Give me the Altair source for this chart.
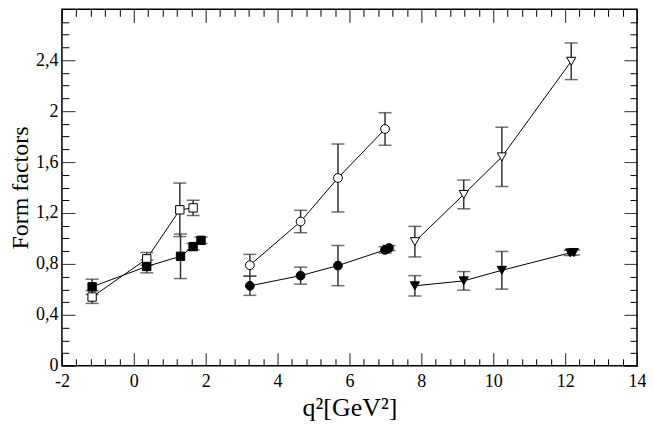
import altair as alt
import pandas as pd

# ---- data ----
sq_open_x = [-1.16, 0.36, 1.28, 1.65]
sq_open_y = [0.54, 0.84, 1.225, 1.24]
sq_open_e = [0.05, 0.05, 0.21, 0.06]

sq_fill_x = [-1.16, 0.36, 1.30, 1.65, 1.87]
sq_fill_y = [0.62, 0.78, 0.86, 0.936, 0.985]
sq_fill_e = [0.06, 0.05, 0.175, 0.025, 0.025]

ci_open_x = [3.23, 4.64, 5.68, 6.99]
ci_open_y = [0.79, 1.133, 1.475, 1.86]
ci_open_e = [0.085, 0.088, 0.267, 0.128]

ci_fill_x = [3.23, 4.64, 5.68, 6.99, 7.10]
ci_fill_y = [0.628, 0.708, 0.787, 0.91, 0.925]
ci_fill_e = [0.075, 0.067, 0.158, 0.025, 0.02]

tr_open_x = [7.82, 9.18, 10.24, 12.17]
tr_open_y = [0.975, 1.346, 1.641, 2.392]
tr_open_e = [0.12, 0.113, 0.233, 0.144]

tr_fill_x = [7.82, 9.18, 10.24, 12.14, 12.24]
tr_fill_y = [0.628, 0.667, 0.75, 0.887, 0.89]
tr_fill_e = [0.08, 0.073, 0.148, 0.02, 0.02]

series = [
    ("sq_open", "sq", "open", sq_open_x, sq_open_y, sq_open_e),
    ("sq_fill", "sq", "filled", sq_fill_x, sq_fill_y, sq_fill_e),
    ("ci_open", "ci", "open", ci_open_x, ci_open_y, ci_open_e),
    ("ci_fill", "ci", "filled", ci_fill_x, ci_fill_y, ci_fill_e),
    ("tr_open", "tr", "open", tr_open_x, tr_open_y, tr_open_e),
    ("tr_fill", "tr", "filled", tr_fill_x, tr_fill_y, tr_fill_e),
]

rows = []
for name, grp, fill, xs, ys, es in series:
    for i, (x, y, e) in enumerate(zip(xs, ys, es)):
        rows.append(dict(series=name, grp=grp, fill=fill, order=i,
                         x=x, y=y, lo=y - e, hi=y + e))
df = pd.DataFrame(rows)

x_ticks = [round(-2 + 0.4 * i, 1) for i in range(41)]
y_ticks = [round(0.1 * i, 1) for i in range(28)]   # 0 .. 2.7 (2.8 is the frame)

FONT = "Liberation Serif"
xscale = alt.Scale(domain=[-2, 14], nice=False, zero=False)
yscale = alt.Scale(domain=[0, 2.8], nice=False, zero=False)

major_x = "abs(datum.value/2 - round(datum.value/2)) < 0.001"
major_y = "abs(datum.value/0.4 - round(datum.value/0.4)) < 0.001"

TS = 13
MINOR = 7


def make_axis(orient, values, test, labels=False, title=None, label_expr=None,
              title_pad=None, label_pad=3, title_size=21, no_extent=False):
    kw = dict(
        orient=orient, values=values, offset=-TS, tickSize=TS, domain=False,
        grid=False, tickColor="black", tickWidth=1,
        tickDash={"condition": {"test": test, "value": [1, 0]},
                  "value": [0, TS - MINOR, MINOR]},
        labels=labels,
    )
    if no_extent:
        kw.update(minExtent=0, maxExtent=0)
    if labels:
        kw.update(labelExpr=label_expr, labelOverlap=False, labelFlush=False,
                  labelBound=False, labelFont=FONT, labelFontSize=18,
                  labelColor="black", labelPadding=label_pad)
    if title is not None:
        kw.update(title=title, titleFont=FONT, titleFontSize=title_size,
                  titleFontWeight="normal", titleColor="black")
        if title_pad is not None:
            kw.update(titlePadding=title_pad)
    else:
        kw.update(title=None)
    return alt.Axis(**kw)


ax_bottom = make_axis("bottom", x_ticks, major_x, labels=True,
                      title="q²[GeV²]",
                      label_expr=f"({major_x}) ? toString(datum.value) : ''",
                      title_pad=4, label_pad=7, title_size=26)
ax_left = make_axis("left", y_ticks, major_y, labels=True,
                    title="Form factors",
                    label_expr=f"({major_y}) ? replace(toString(datum.value), '.', ',') : ''",
                    title_pad=3, label_pad=4, title_size=24)
ax_top = make_axis("top", x_ticks, major_x, no_extent=True)
ax_right = make_axis("right", y_ticks, major_y, no_extent=True)

base = alt.Chart(df)

lines = base.mark_line(color="black", strokeWidth=1).encode(
    x=alt.X("x:Q", scale=xscale, axis=None),
    y=alt.Y("y:Q", scale=yscale, axis=None),
    detail="series:N",
    order="order:Q",
)

errs = base.mark_errorbar(ticks=True, size=13, thickness=1.5, color="#333333").encode(
    x=alt.X("x:Q", scale=xscale, axis=None),
    y=alt.Y("lo:Q", scale=yscale, axis=None),
    y2="hi:Q",
)

points = base.mark_point(filled=False, opacity=1, stroke="black",
                         strokeWidth=1).encode(
    x=alt.X("x:Q", scale=xscale, axis=ax_bottom),
    y=alt.Y("y:Q", scale=yscale, axis=ax_left),
    shape=alt.Shape("grp:N", scale=alt.Scale(domain=["sq", "ci", "tr"],
                    range=["square", "circle", "triangle-down"]), legend=None),
    fill=alt.Fill("fill:N", scale=alt.Scale(domain=["open", "filled"],
                  range=["white", "black"]), legend=None),
    size=alt.Size("grp:N", scale=alt.Scale(domain=["sq", "ci", "tr"],
                  range=[70, 85, 100]), legend=None),
)

frame_axes = base.mark_point(opacity=0).encode(
    x=alt.X("x:Q", scale=xscale, axis=ax_top),
    y=alt.Y("y:Q", scale=yscale, axis=ax_right),
)

chart = alt.layer(lines, errs, points, frame_axes).resolve_axis(
    x="independent", y="independent"
).properties(
    width=576, height=357, padding=0, background="white"
).configure_view(
    stroke="black", strokeWidth=1.5
)

chart.save("out.html", embed_options={"renderer": "svg", "actions": False})
